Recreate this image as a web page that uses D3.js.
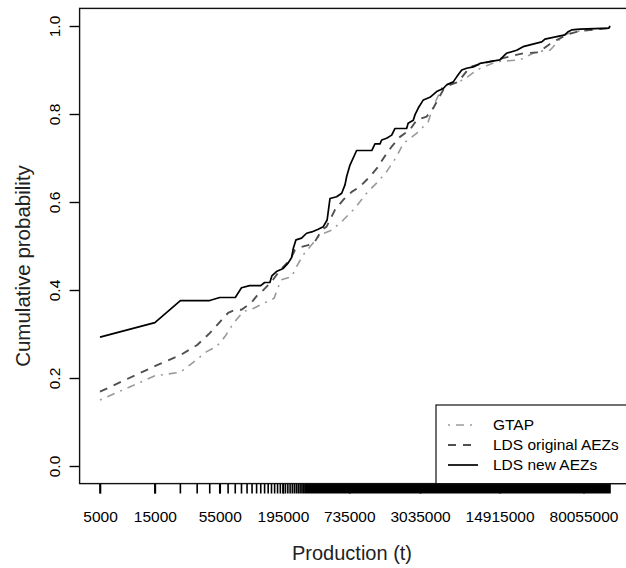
<!DOCTYPE html>
<html>
<head>
<meta charset="utf-8">
<script src="https://cdn.jsdelivr.net/npm/d3@7"></script>
<style>
  body { margin: 0; background: #fff; }
  svg { display: block; }
  text { font-family: "Liberation Sans", Arial, Helvetica, sans-serif; }
</style>
</head>
<body>
<svg id="chart" width="626" height="568"></svg>
<script>
// Cumulative distribution of production (t) under three land-use data sets.

// GTAP
const gtapProd = [5000, 15000, 25000, 30300, 42300, 51400, 61000, 72100, 88100, 107500,
  150400, 163000, 187400, 232000, 256000, 292600, 409000, 518000, 652000, 824000,
  1040000, 1270000, 1554000, 1896000, 2170000, 2830000, 3570000, 3950000, 4830000, 7210000,
  9420000, 14000000, 22400000, 31300000, 40900000, 43700000, 53400000, 74600000, 133000000, 136100000];
const gtapProb = [0.15, 0.205, 0.213, 0.23, 0.26, 0.271, 0.294, 0.324, 0.351, 0.358,
  0.377, 0.381, 0.423, 0.43, 0.453, 0.48, 0.525, 0.536, 0.559, 0.586,
  0.62, 0.643, 0.669, 0.703, 0.733, 0.756, 0.782, 0.817, 0.866, 0.877,
  0.9, 0.919, 0.923, 0.942, 0.945, 0.953, 0.98, 0.989, 0.995, 1.0];

// LDS original AEZs
const ldsOrigProd = [5000, 15000, 25000, 35000, 45000, 55000, 65000, 75000, 85000, 95000,
  105000, 115000, 127000, 155600, 183700, 224400, 248000, 274000, 323000, 370000,
  423000, 467000, 552000, 652000, 772000, 912000, 1114000, 1312000, 1453000, 1720000,
  2030000, 2480000, 2830000, 3460000, 3950000, 4830000, 5530000, 6510000, 8250000, 10750000,
  16000000, 23900000, 32300000, 40900000, 46700000, 57100000, 74600000, 133000000, 136100000];
const ldsOrigProb = [0.169, 0.227, 0.252, 0.275, 0.302, 0.327, 0.348, 0.355, 0.355, 0.364,
  0.373, 0.386, 0.396, 0.419, 0.445, 0.468, 0.491, 0.497, 0.502, 0.51,
  0.536, 0.544, 0.582, 0.605, 0.623, 0.635, 0.658, 0.68, 0.699, 0.726,
  0.748, 0.764, 0.786, 0.794, 0.813, 0.855, 0.866, 0.873, 0.907, 0.915,
  0.927, 0.938, 0.94, 0.959, 0.968, 0.98, 0.989, 0.995, 1.0];

// LDS new AEZs
const ldsNewProd = [5000, 15000, 25000, 45000, 55000, 75000, 85000, 100000, 125000, 135000,
  150000, 156000, 171000, 196000, 216000, 232000, 240000, 253000, 283000, 313000,
  347000, 395000, 437000, 472000, 500000, 571000, 632000, 675000, 698000, 746000,
  852000, 1154000, 1230000, 1361000, 1407000, 1554000, 1720000, 1833000, 2320000, 2390000,
  2650000, 2740000, 2920000, 3240000, 3700000, 4230000, 4830000, 5160000, 5900000, 6510000,
  6990000, 7710000, 8810000, 10070000, 15000000, 17100000, 21000000, 23900000, 34700000, 37000000,
  55200000, 58900000, 63100000, 74600000, 133000000, 136100000];
const ldsNewProb = [0.293, 0.326, 0.376, 0.376, 0.383, 0.383, 0.405, 0.41, 0.41, 0.417,
  0.417, 0.432, 0.442, 0.449, 0.461, 0.474, 0.495, 0.514, 0.518, 0.529,
  0.532, 0.538, 0.544, 0.559, 0.608, 0.612, 0.62, 0.639, 0.658, 0.684,
  0.717, 0.717, 0.732, 0.732, 0.741, 0.745, 0.752, 0.767, 0.767, 0.779,
  0.786, 0.798, 0.813, 0.832, 0.838, 0.851, 0.858, 0.866, 0.873, 0.889,
  0.9, 0.904, 0.907, 0.915, 0.923, 0.938, 0.945, 0.953, 0.964, 0.97,
  0.98, 0.987, 0.991, 0.993, 0.995, 1.0];

// Axis ticks: one tick every 10000 t from 5000 t; only some carry a label.
const xTickFirst = 5000;
const xTickStep = 10000;
const xTickLabels = [5000, 15000, 55000, 195000, 735000, 3035000, 14915000, 80055000];
const yTicks = [0, 0.2, 0.4, 0.6, 0.8, 1.0];

const legendNames = ["GTAP", "LDS original AEZs", "LDS new AEZs"];

const series = [
  { name: legendNames[0], prod: gtapProd, prob: gtapProb, color: "#9a9a9a", width: 1.6, dash: "2,6,8,6" },
  { name: legendNames[1], prod: ldsOrigProd, prob: ldsOrigProb, color: "#505050", width: 1.9, dash: "8,7" },
  { name: legendNames[2], prod: ldsNewProd, prob: ldsNewProb, color: "#000000", width: 1.7, dash: null }
];

const svg = d3.select("#chart");

// Plot region with 4% padding on both axes (x padded in log space).
const allProd = gtapProd.concat(ldsOrigProd, ldsNewProd);
const xMin = d3.min(allProd), xMax = d3.max(allProd);
const lMin = Math.log10(xMin), lMax = Math.log10(xMax);
const lPad = (lMax - lMin) * 0.04;
const innerLeft = 100, innerRight = 610;
const pxPerLog = (innerRight - innerLeft) / (lMax - lMin);
const x = d3.scaleLog()
  .domain([Math.pow(10, lMin - lPad), Math.pow(10, lMax + lPad)])
  .range([innerLeft - lPad * pxPerLog, innerRight + lPad * pxPerLog]);

const y = d3.scaleLinear().domain([-0.04, 1.04]).range([483.6, 8.4]);

const [plotLeft, plotRight] = x.range();
const [plotBottom, plotTop] = y.range();

// Series lines
const line = d3.line().x(d => x(d[0])).y(d => y(d[1]));
series.forEach(s => {
  svg.append("path")
    .datum(d3.zip(s.prod, s.prob))
    .attr("d", line)
    .attr("fill", "none")
    .attr("stroke", s.color)
    .attr("stroke-width", s.width)
    .attr("stroke-linejoin", "round")
    .attr("stroke-dasharray", s.dash);
});

// Dense minor ticks along the x axis
const allTicks = d3.range(xTickFirst, xMax + 1, xTickStep);
const tickPath = allTicks.map(v => `M${x(v).toFixed(2)},${plotBottom}v10`).join("");
svg.append("path")
  .attr("d", tickPath)
  .attr("stroke", "#000")
  .attr("stroke-width", 1.6)
  .attr("fill", "none");

// Labelled x ticks
const xAxis = svg.append("g")
  .attr("transform", `translate(0,${plotBottom})`)
  .call(d3.axisBottom(x).tickValues(xTickLabels).tickSize(10).tickPadding(17).tickFormat(d3.format("d")));
xAxis.select(".domain").remove();
xAxis.selectAll(".tick line").attr("stroke", "#000").attr("stroke-width", 1.6);
xAxis.selectAll(".tick text")
  .attr("font-size", "15.5px")
  .attr("fill", "#000")
  .attr("font-family", '"Liberation Sans", Arial, Helvetica, sans-serif');

// y axis with labels rotated parallel to the axis
const yAxis = svg.append("g")
  .attr("transform", `translate(${plotLeft},0)`)
  .call(d3.axisLeft(y).tickValues(yTicks).tickSize(10).tickFormat(d3.format(".1f")));
yAxis.select(".domain").remove();
yAxis.selectAll(".tick line").attr("stroke", "#000").attr("stroke-width", 1.4);
yAxis.selectAll(".tick text")
  .attr("x", null).attr("dy", null)
  .attr("text-anchor", "middle")
  .attr("transform", "translate(-20,0) rotate(-90)")
  .attr("font-size", "15.5px")
  .attr("fill", "#000")
  .attr("font-family", '"Liberation Sans", Arial, Helvetica, sans-serif');

// Plot frame
svg.append("rect")
  .attr("x", plotLeft).attr("y", plotTop)
  .attr("width", plotRight - plotLeft).attr("height", plotBottom - plotTop)
  .attr("fill", "none")
  .attr("stroke", "#111")
  .attr("stroke-width", 1.4);

// Axis titles
svg.append("text")
  .attr("x", 352).attr("y", 560)
  .attr("text-anchor", "middle")
  .attr("font-size", "20px")
  .attr("fill", "#222")
  .text("Production (t)");

svg.append("text")
  .attr("transform", "translate(30,266) rotate(-90)")
  .attr("text-anchor", "middle")
  .attr("font-size", "20.5px")
  .attr("fill", "#222")
  .text("Cumulative probability");

// Legend in the bottom-right corner
const legend = svg.append("g");
legend.append("rect")
  .attr("x", 436).attr("y", 405)
  .attr("width", plotRight - 436).attr("height", plotBottom - 405)
  .attr("fill", "#fff")
  .attr("stroke", "#111")
  .attr("stroke-width", 1.2);
series.forEach((s, i) => {
  const ry = 425 + i * 20;
  legend.append("line")
    .attr("x1", 448).attr("x2", 478)
    .attr("y1", ry).attr("y2", ry)
    .attr("stroke", s.color)
    .attr("stroke-width", s.width)
    .attr("stroke-dasharray", s.dash);
  legend.append("text")
    .attr("x", 493).attr("y", ry)
    .attr("dy", "0.35em")
    .attr("font-size", "15.5px")
    .attr("fill", "#000")
    .text(s.name);
});
</script>
</body>
</html>
